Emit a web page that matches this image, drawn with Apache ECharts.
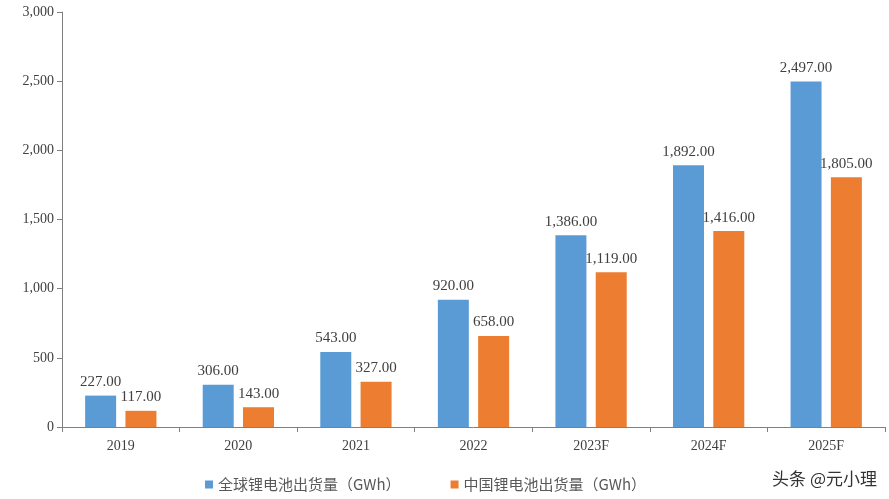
<!DOCTYPE html>
<html><head><meta charset="utf-8">
<script src="https://cdn.jsdelivr.net/npm/echarts@6/dist/echarts.min.js"></script>
<style>html,body{margin:0;background:#fff}#c{width:889px;height:499px}</style>
</head><body><div id="c"></div>
<script>
// 锂电池出货量
const years = ['2019', '2020', '2021', '2022', '2023F', '2024F', '2025F'];
const globalShip = [227, 306, 543, 920, 1386, 1892, 2497];
const chinaShip = [117, 143, 327, 658, 1119, 1416, 1805];

const chart = echarts.init(document.getElementById('c'));
const serif = 'Liberation Serif';
const fmt = p => p.value.toLocaleString('en-US', {minimumFractionDigits: 2});
const lbl = {show: true, position: 'top', color: '#404040', fontFamily: serif, fontSize: 15, formatter: fmt, distance: 6};

chart.setOption({
	animation: false,
	grid: {left: 62, right: 4, top: 12, bottom: 72},
	legend: {
		bottom: 2, left: 200, itemWidth: 8, itemHeight: 8, itemGap: 50,
		textStyle: {color: '#595959', fontSize: 15, fontFamily: 'Noto Sans CJK SC'},
		data: [{name: '全球锂电池出货量（GWh）', icon: 'rect'}, {name: '中国锂电池出货量（GWh）', icon: 'rect'}]
	},
	xAxis: {
		type: 'category', data: years,
		axisLine: {lineStyle: {color: '#808080'}},
		axisTick: {show: true, lineStyle: {color: '#808080'}},
		axisLabel: {color: '#404040', fontFamily: serif, fontSize: 14, margin: 12}
	},
	yAxis: {
		type: 'value', min: 0, max: 3000, interval: 500,
		axisLine: {show: true, lineStyle: {color: '#808080'}},
		axisTick: {show: true, lineStyle: {color: '#808080'}},
		splitLine: {show: false},
		axisLabel: {color: '#404040', fontFamily: serif, fontSize: 14, formatter: v => v.toLocaleString('en-US')}
	},
	series: [
		{name: '全球锂电池出货量（GWh）', type: 'bar', data: globalShip, barWidth: 31, barGap: '30%', itemStyle: {color: '#5B9BD5'}, label: lbl},
		{name: '中国锂电池出货量（GWh）', type: 'bar', data: chinaShip, barWidth: 31, itemStyle: {color: '#ED7D31'}, label: lbl}
	],
	graphic: [{type: 'text', right: 12, bottom: 12, style: {text: '头条 @元小理', fill: '#333', font: '17px "Noto Sans CJK SC"'}}]
});
</script></body></html>
